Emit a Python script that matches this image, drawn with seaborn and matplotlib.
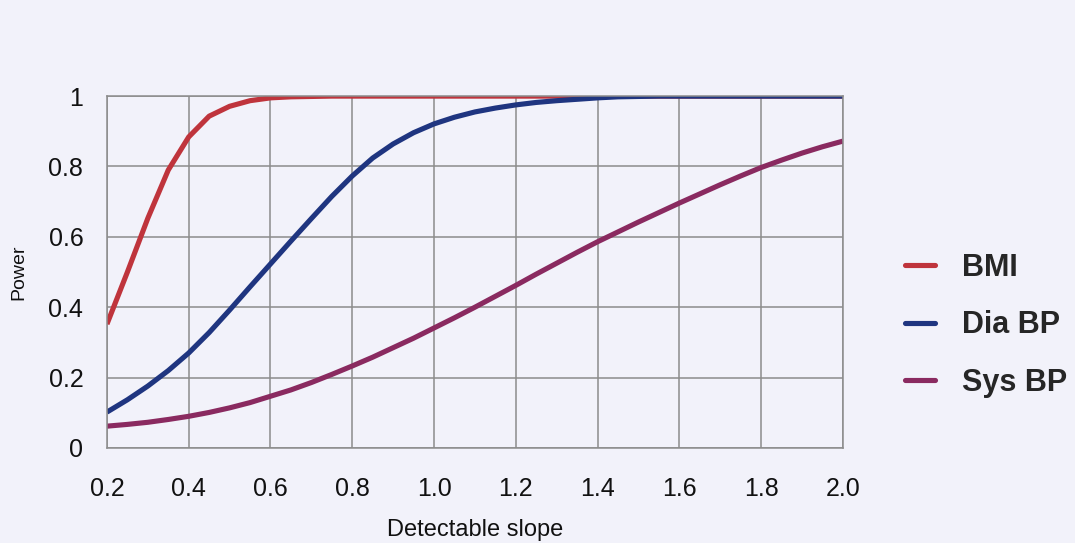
import numpy as np
import pandas as pd
import matplotlib
matplotlib.use("Agg")
import matplotlib.pyplot as plt
import seaborn as sns

# Detectable slope values (x axis), 0.05 apart from 0.2 to 2.0
slope = [0.20, 0.25, 0.30, 0.35, 0.40, 0.45, 0.50, 0.55, 0.60, 0.65,
         0.70, 0.75, 0.80, 0.85, 0.90, 0.95, 1.00, 1.05, 1.10, 1.15,
         1.20, 1.25, 1.30, 1.35, 1.40, 1.45, 1.50, 1.55, 1.60, 1.65,
         1.70, 1.75, 1.80, 1.85, 1.90, 1.95, 2.00]

# Power for each outcome
power_bmi = [0.352, 0.500, 0.653, 0.790, 0.884, 0.943, 0.971, 0.987, 0.995, 0.998,
             0.999, 1.0, 1.0, 1.0, 1.0, 1.0, 1.0, 1.0, 1.0, 1.0,
             1.0, 1.0, 1.0, 1.0, 1.0, 1.0, 1.0, 1.0, 1.0, 1.0,
             1.0, 1.0, 1.0, 1.0, 1.0, 1.0, 1.0]
power_dia = [0.102, 0.137, 0.176, 0.220, 0.270, 0.328, 0.392, 0.458, 0.523, 0.588,
             0.652, 0.715, 0.773, 0.824, 0.864, 0.896, 0.921, 0.940, 0.955, 0.966,
             0.975, 0.982, 0.987, 0.991, 0.995, 0.998, 0.999, 1.0, 1.0, 1.0,
             1.0, 1.0, 1.0, 1.0, 1.0, 1.0, 1.0]
power_sys = [0.062, 0.067, 0.073, 0.081, 0.090, 0.101, 0.114, 0.129, 0.147, 0.165,
             0.186, 0.209, 0.233, 0.258, 0.285, 0.312, 0.341, 0.370, 0.400, 0.431,
             0.462, 0.494, 0.525, 0.556, 0.586, 0.614, 0.642, 0.669, 0.696, 0.722,
             0.748, 0.773, 0.797, 0.818, 0.838, 0.856, 0.872]

series_names = ["BMI", "Dia BP", "Sys BP"]
series_colors = ["#BF343C", "#1F3580", "#8A2A60"]

x_ticks = [0.2, 0.4, 0.6, 0.8, 1.0, 1.2, 1.4, 1.6, 1.8, 2.0]
y_ticks = [0, 0.2, 0.4, 0.6, 0.8, 1]
y_tick_labels = ["0", "0.2", "0.4", "0.6", "0.8", "1"]

df = pd.DataFrame({
    "slope": slope * 3,
    "power": power_bmi + power_dia + power_sys,
    "outcome": sum([[n] * len(slope) for n in series_names], []),
})

sns.set_style("white")
plt.rcParams["font.family"] = ["Liberation Sans", "DejaVu Sans"]

bg = "#F2F2FA"
fig = plt.figure(figsize=(10.75, 5.43), dpi=100, facecolor=bg)
ax = fig.add_axes([0.0995, 0.175, 0.6845, 0.648])
ax.set_facecolor(bg)

sns.lineplot(data=df, x="slope", y="power", hue="outcome",
             hue_order=series_names, palette=series_colors,
             linewidth=3.7, ax=ax, legend=False,
             solid_joinstyle="round", solid_capstyle="butt")

ax.set_xlim(0.2, 2.0)
ax.set_ylim(0, 1)
ax.set_xticks(x_ticks)
ax.set_xticklabels([f"{v:.1f}" for v in x_ticks])
ax.set_yticks(y_ticks)
ax.set_yticklabels(y_tick_labels)

grid_color = "#8C8C8C"
ax.grid(True, color=grid_color, linewidth=1.1)
ax.set_axisbelow(True)
for side in ["left", "bottom", "top", "right"]:
    ax.spines[side].set_visible(True)
    ax.spines[side].set_color(grid_color)
    ax.spines[side].set_linewidth(1.1)

ax.tick_params(axis="both", direction="out", length=7, width=1.1,
               color=grid_color, labelsize=18, labelcolor="#111111")
ax.tick_params(axis="x", pad=14)
ax.tick_params(axis="y", pad=10)

ax.set_xlabel("Detectable slope", fontsize=17, color="#111111", labelpad=13)
ax.set_ylabel("Power", fontsize=14, color="#111111", labelpad=15)

handles = [plt.Line2D([], [], color=c, linewidth=3.7) for c in series_colors]
fig.legend(handles, series_names, loc="center left",
           bbox_to_anchor=(0.842, 0.401), frameon=False,
           borderaxespad=0, borderpad=0,
           prop={"weight": "bold", "size": 22}, handlelength=0.98,
           handletextpad=0.88, labelspacing=0.9)

fig.savefig("out.png", dpi=100, facecolor=bg)
